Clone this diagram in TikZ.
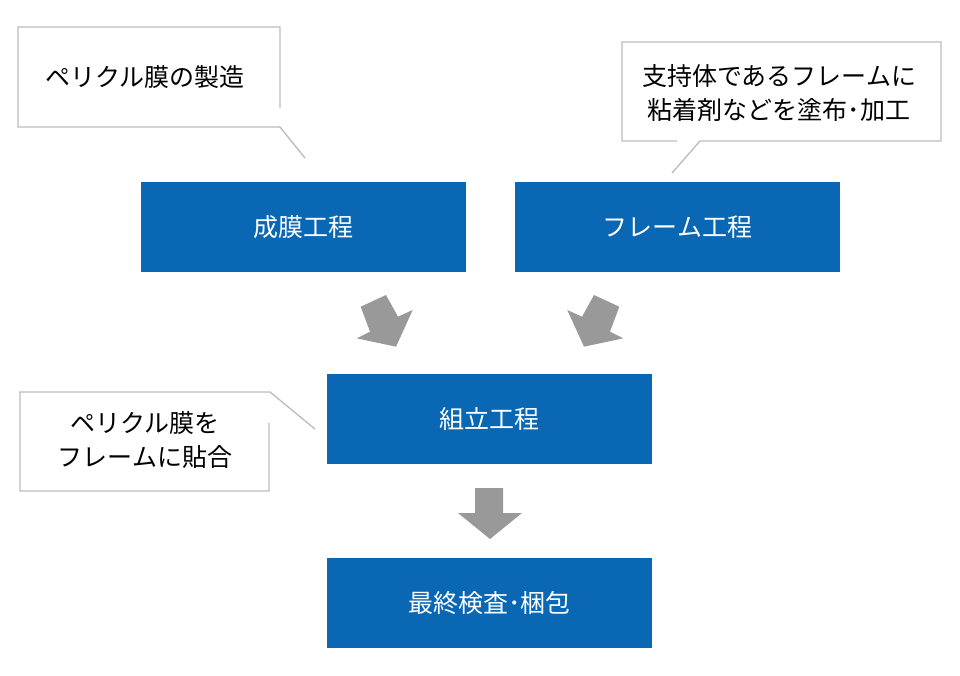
\documentclass[tikz,border=0pt]{standalone}
\usepackage{fontspec}
\setmainfont{Noto Sans CJK JP}
\definecolor{stepblue}{HTML}{0A67B3}
\definecolor{arrowgray}{HTML}{999999}
\definecolor{notegray}{HTML}{BBBBBB}
\begin{document}
\begin{tikzpicture}[x=0.75pt,y=-0.75pt,
    process/.style={fill=stepblue, text=white, inner sep=0pt,
      minimum width=243.75pt, minimum height=67.5pt,
      font=\fontsize{18.75}{24}\selectfont},
    note/.style={draw=notegray, line width=1pt},
    notetext/.style={align=center, inner sep=0pt,
      font=\fontsize{18.75}{25.5}\selectfont},
    flow/.style={fill=arrowgray}]
    \useasboundingbox (0,0) rectangle (960,675);
    % process boxes
    \node[process] (film) at (303.5,227) {成膜工程};
    \node[process] (frame) at (677.5,227) {フレーム工程};
    \node[process] (assy) at (489.5,419) {組立工程};
    \node[process] (final) at (489.5,603) {最終検査･梱包};
    % callouts
    \draw[note] (280,108) -- (280,27) -- (18,27) -- (18,127) -- (280,127) -- (305,158);
    \node[notetext] (filmnote) at (145,77) {ペリクル膜の製造};
    \draw[note] (677,141) -- (622,141) -- (622,42) -- (941,42) -- (941,141) -- (700,141) -- (672,173);
    \node[notetext] (framenote) at (779,93) {支持体であるフレームに\\粘着剤などを塗布･加工};
    \draw[note] (269,423) -- (269,491) -- (20,491) -- (20,392) -- (270,392) -- (315,429);
    \node[notetext] (assynote) at (145,440) {ペリクル膜を\\フレームに貼合};
    % flow arrows
    \fill[flow] (360.7,306.7) -- (386,295) -- (398,316.7) -- (412.7,310)
      -- (396,346.7) -- (356.7,338.3) -- (370,331.7) -- cycle;
    \fill[flow] (619.3,306.7) -- (594,295) -- (582,316.7) -- (567.3,310)
      -- (584,346.7) -- (623.3,338.3) -- (610,331.7) -- cycle;
    \fill[flow] (475,488) -- (503,488) -- (503,513) -- (522,513)
      -- (490,539) -- (458,513) -- (475,513) -- cycle;
\end{tikzpicture}
\end{document}
